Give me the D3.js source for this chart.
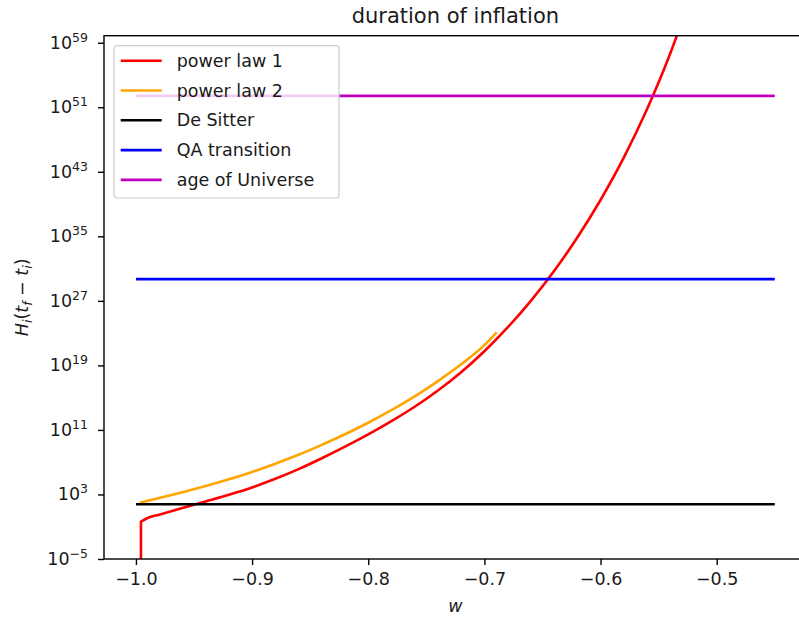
<!DOCTYPE html>
<html>
<head>
<meta charset="utf-8">
<script src="https://cdn.jsdelivr.net/npm/d3@7"></script>
<style>
  body { margin: 0; background: #fff; }
  text { font-family: "DejaVu Sans", sans-serif; fill: #1a1a1a; }
</style>
</head>
<body>
<svg id="canvas" width="799" height="619"></svg>
<script>
// values
var wRed = [-0.9957, -0.9957, -0.99, -0.98, -0.96, -0.94, -0.92, -0.90, -0.88, -0.86, -0.84, -0.82,
  -0.80, -0.78, -0.76, -0.74, -0.72, -0.70, -0.68, -0.66, -0.64, -0.62, -0.60, -0.58, -0.56, -0.54, -0.53];
var hRed = [1e-9, 0.417, 1.2, 3.16, 20.9, 135, 912, 7.4e3, 8.7e4, 1.38e6, 3.09e7, 8.5e8,
  2.82e10, 1.23e12, 7.4e13, 7.6e15, 1.45e18, 5.6e20, 5.0e23, 1e27, 5.0e30, 7.1e34, 3.2e39, 5.6e44, 5.6e50, 4.5e57, 4e61];

var wOrange = [-0.9966, -0.99, -0.98, -0.96, -0.94, -0.92, -0.90, -0.88, -0.86, -0.84, -0.82,
  -0.80, -0.78, -0.76, -0.74, -0.72, -0.70, -0.6894];
var hOrange = [95.5, 162, 363, 1.9e3, 1.12e4, 7.6e4, 6.2e5, 6.5e6, 8.3e7, 1.41e9, 2.9e10,
  7.8e11, 2.8e13, 1.41e15, 1.12e17, 1.35e19, 3.2e21, 1.26e23];

// horizontal reference levels
var wRange = [-1.0, -0.45];
var deSitter = 60;
var qaTransition = 5e29;
var ageUniverse = 2.6e52;

var legendNames = ["power law 1", "power law 2", "De Sitter", "QA transition", "age of Universe"];
var legendColors = ["red", "orange", "black", "blue", "#bf00bf"];

var xTicks = [-1.0, -0.9, -0.8, -0.7, -0.6, -0.5];
var yTickExp = [-5, 3, 11, 19, 27, 35, 43, 51, 59];

var margin = { left: 104, top: 35.7, right: 806.7, bottom: 559 };

var svg = d3.select("#canvas");

var x = d3.scaleLinear().domain([-1.0275, -0.4225]).range([margin.left, margin.right]);
var y = d3.scaleLog().domain([1e-5, Math.pow(10, 59.87)]).range([margin.bottom, margin.top]);

svg.append("defs").append("clipPath").attr("id", "clip")
  .append("rect")
  .attr("x", margin.left).attr("y", margin.top)
  .attr("width", margin.right - margin.left).attr("height", margin.bottom - margin.top);

var plot = svg.append("g").attr("clip-path", "url(#clip)");

function hline(v, color) {
  plot.append("line")
    .attr("x1", x(wRange[0])).attr("x2", x(wRange[1]))
    .attr("y1", y(v)).attr("y2", y(v))
    .attr("stroke", color).attr("stroke-width", 2.6);
}

var redPts = wRed.map(function(w, i) { return [x(w), y(hRed[i])]; });
var orangePts = wOrange.map(function(w, i) { return [x(w), y(hOrange[i])]; });
var smooth = d3.line().curve(d3.curveMonotoneX);

// red: vertical drop first, then the smooth part
var redPath = "M" + redPts[0][0] + "," + redPts[0][1] + "L" + smooth(redPts.slice(1)).slice(1);

plot.append("path").attr("d", redPath)
  .attr("fill", "none").attr("stroke", "red").attr("stroke-width", 2.6);
plot.append("path").attr("d", smooth(orangePts))
  .attr("fill", "none").attr("stroke", "orange").attr("stroke-width", 2.6);
hline(deSitter, "black");
hline(qaTransition, "blue");
hline(ageUniverse, "#bf00bf");

// axes
var xAxis = d3.axisBottom(x).tickValues(xTicks).tickSize(6)
  .tickFormat(function(d) { return d3.format(".1f")(d).replace("-", "\u2212"); });
var gx = svg.append("g").attr("transform", "translate(0," + margin.bottom + ")").call(xAxis);
gx.select(".domain").remove();
gx.selectAll(".tick line").attr("stroke", "#000").attr("stroke-width", 1.4);
gx.selectAll(".tick text").attr("font-size", 17.5).attr("dy", "0.95em")
  .style("font-family", "DejaVu Sans").attr("fill", "#1a1a1a");

var yAxis = d3.axisLeft(y).tickValues(yTickExp.map(function(e) { return Math.pow(10, e); }))
  .tickSize(6).tickFormat("");
var gy = svg.append("g").attr("transform", "translate(" + margin.left + ",0)").call(yAxis);
gy.select(".domain").remove();
gy.selectAll(".tick line").attr("stroke", "#000").attr("stroke-width", 1.4);
yTickExp.forEach(function(e) {
  var t = svg.append("text")
    .attr("x", 88).attr("y", y(Math.pow(10, e)) + 6)
    .attr("text-anchor", "end").attr("font-size", 17.5);
  t.append("tspan").text("10");
  t.append("tspan").attr("font-size", 12.5).attr("dy", -7)
    .text(String(e).replace("-", "\u2212"));
});

// spines
svg.append("rect")
  .attr("x", margin.left).attr("y", margin.top)
  .attr("width", margin.right - margin.left).attr("height", margin.bottom - margin.top)
  .attr("fill", "none").attr("stroke", "#000").attr("stroke-width", 1.4);

// title and labels
svg.append("text").attr("x", (margin.left + margin.right) / 2).attr("y", 23)
  .attr("text-anchor", "middle").attr("font-size", 21).text("duration of inflation");

svg.append("text").attr("x", (margin.left + margin.right) / 2).attr("y", 612)
  .attr("text-anchor", "middle").attr("font-size", 17.5).attr("font-style", "italic").text("w");

var yl = svg.append("text")
  .attr("transform", "translate(28," + ((margin.top + margin.bottom) / 2) + ") rotate(-90)")
  .attr("text-anchor", "middle").attr("font-size", 17.5);
yl.append("tspan").attr("font-style", "italic").text("H");
yl.append("tspan").attr("font-style", "italic").attr("font-size", 12.5).attr("dy", 4).text("i");
yl.append("tspan").attr("dy", -4).text("(");
yl.append("tspan").attr("font-style", "italic").text("t");
yl.append("tspan").attr("font-style", "italic").attr("font-size", 12.5).attr("dy", 4).text("f");
yl.append("tspan").attr("dy", -4).text(" \u2212 ");
yl.append("tspan").attr("font-style", "italic").text("t");
yl.append("tspan").attr("font-style", "italic").attr("font-size", 12.5).attr("dy", 4).text("i");
yl.append("tspan").attr("dy", -4).text(")");

// legend
var lg = svg.append("g").attr("transform", "translate(114,45.7)");
lg.append("rect").attr("width", 225).attr("height", 152.3).attr("rx", 3)
  .attr("fill", "white").attr("fill-opacity", 0.8)
  .attr("stroke", "#ccc").attr("stroke-width", 1.2);
var item = lg.selectAll(".item").data(legendNames).enter().append("g")
  .attr("class", "item")
  .attr("transform", function(d, i) { return "translate(0," + (15 + i * 29.8) + ")"; });
item.append("line").attr("x1", 6.7).attr("x2", 47.7)
  .attr("stroke", function(d, i) { return legendColors[i]; }).attr("stroke-width", 2.6);
item.append("text").attr("x", 62.7).attr("y", 6).attr("font-size", 17.5).text(function(d) { return d; });
</script>
</body>
</html>
